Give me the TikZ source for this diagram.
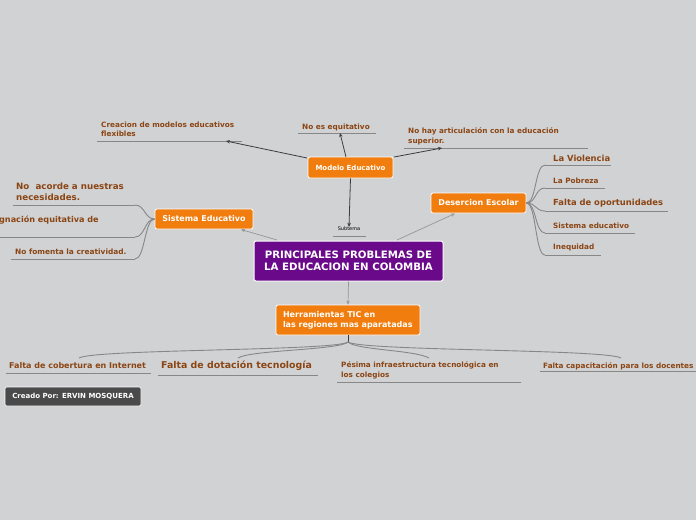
\documentclass[tikz,border=0pt]{standalone}
\usepackage{fontspec}
\setmainfont{DejaVu Sans}
\usetikzlibrary{arrows.meta,calc}
\definecolor{bg}{RGB}{209,210,212}
\definecolor{orangeN}{RGB}{240,125,14}
\definecolor{purpleN}{RGB}{106,10,138}
\definecolor{brownT}{RGB}{139,69,19}
\definecolor{darkN}{RGB}{74,74,74}
\definecolor{lineD}{RGB}{60,60,60}
\definecolor{lineL}{RGB}{150,150,150}
\definecolor{ulin}{RGB}{135,135,135}
\tikzset{
  topic/.style={rounded corners=2pt, fill=orangeN, draw=white, line width=0.8pt, text=white,
    font=\bfseries\fontsize{8}{9.5}\selectfont, inner sep=0pt},
  central/.style={rounded corners=2pt, fill=purpleN, draw=white, line width=1pt, text=white,
    font=\bfseries\fontsize{10.2}{12}\selectfont, align=center, inner sep=0pt},
  sub/.style={text=brownT, font=\bfseries\fontsize{7.3}{9.5}\selectfont, align=left, inner sep=0pt, anchor=west},
  subbig/.style={text=brownT, font=\bfseries\fontsize{8.4}{11}\selectfont, align=left, inner sep=0pt, anchor=west},
  ul/.style={draw=ulin, line width=0.9pt},
  darr/.style={draw=lineD, line width=0.8pt, -{Stealth[length=4pt,width=3.5pt]}},
  larr/.style={draw=lineL, line width=0.7pt, -{Stealth[length=4pt,width=3.5pt]}},
  branch/.style={draw=ulin, line width=0.9pt},
}
\begin{document}
\begin{tikzpicture}[x=1pt,y=-1pt]
\useasboundingbox[fill=bg] (0,0) rectangle (696,520);
\clip (0,0) rectangle (696,520);

% main nodes
\node[central, minimum width=189pt, minimum height=40pt] (cen) at (348.5,261) {PRINCIPALES PROBLEMAS DE\\LA EDUCACION EN COLOMBIA};
\node[topic, minimum width=85pt, minimum height=21pt, font=\bfseries\fontsize{7}{8.5}\selectfont] (mod) at (350.5,167.5) {Modelo Educativo};
\node[topic, minimum width=98pt, minimum height=20pt] (sis) at (204,219) {Sistema Educativo};
\node[topic, minimum width=95pt, minimum height=20pt] (des) at (478.5,203) {Desercion Escolar};
\node[topic, minimum width=144pt, minimum height=30pt, align=left, text width=130pt, font=\bfseries\fontsize{8}{10}\selectfont] (her) at (348,320) {Herramientas TIC en\\las regiones mas aparatadas};

% subtema
\node[font=\fontsize{5}{6}\selectfont, inner sep=0pt] (subt) at (349,229) {Subtema};
\coordinate (subtA) at (333,236); \coordinate (subtB) at (366,236);
\draw[ul, line width=0.6pt] (subtA) -- (subtB);
\draw[darr] (mod.south) -- (subt.north);

% central connectors
\coordinate (cS) at (277,240); \coordinate (cD) at (397,240);
\coordinate (sisIn) at (241,229.5); \coordinate (desIn) at (455,213.5);
\draw[larr] (cS) -- (sisIn);
\draw[larr] (cD) -- (desIn);
\draw[larr] (cen.south) -- (her.north);

% Modelo children
\node[sub] (cre) at (101,129.5) {Creacion de modelos educativos\\flexibles};
\coordinate (creA) at (97,141); \coordinate (creB) at (242,141); \coordinate (creT) at (226,141);
\draw[ul] (creA) -- (creB);
\node[sub] (equ) at (302,127) {No es equitativo};
\coordinate (equA) at (298,133); \coordinate (equB) at (376,133); \coordinate (equT) at (340,133);
\draw[ul] (equA) -- (equB);
\node[sub] (art) at (408,136.5) {No hay articulación con la educación\\superior.};
\coordinate (artA) at (404,148); \coordinate (artB) at (588,148); \coordinate (artT) at (442,148);
\draw[ul] (artA) -- (artB);
\coordinate (modL) at (307,158); \coordinate (modT) at (346,157); \coordinate (modR) at (394,157);
\draw[darr] (modL) -- (creT);
\draw[darr] (modT) -- (equT);
\draw[darr] (modR) -- (artT);

% Desercion children
\node[subbig] (vio) at (553,158) {La Violencia};
\node[sub] (pob) at (553,181) {La Pobreza};
\node[subbig] (opo) at (553,203) {Falta de oportunidades};
\node[sub] (sed) at (553,226) {Sistema educativo};
\node[sub] (ine) at (553,247) {Inequidad};
\coordinate (d1) at (545,165); \coordinate (d1e) at (611,165);
\coordinate (d2) at (545,188); \coordinate (d2e) at (605,188);
\coordinate (d3) at (545,211); \coordinate (d3e) at (668,211);
\coordinate (d4) at (545,233); \coordinate (d4e) at (635,233);
\coordinate (d5) at (545,255); \coordinate (d5e) at (601,255);
\foreach \a/\b in {d1/d1e,d2/d2e,d3/d3e,d4/d4e,d5/d5e}{\draw[ul] (\a) -- (\b);}
\foreach \p in {d1,d2,d3,d4,d5}{
  \draw[branch] (des.east) .. controls ($(des.east)+(10,0)$) and ($(\p)+(-10,0)$) .. (\p);}

% Sistema children
\node[subbig, font=\bfseries\fontsize{8.7}{11}\selectfont] (aco) at (16,191.5) {No\ \ acorde a nuestras\\necesidades.};
\node[subbig, font=\bfseries\fontsize{8.1}{11}\selectfont] (asi) at (-1,220) {gnación equitativa de};
\node[sub, font=\bfseries\fontsize{7.4}{9}\selectfont] (fom) at (15,252) {No fomenta la creatividad.};
\coordinate (s1) at (135,205); \coordinate (s1e) at (13,205);
\coordinate (s2) at (135,237); \coordinate (s2e) at (0,237);
\coordinate (s3) at (135,259); \coordinate (s3e) at (11,259);
\foreach \a/\b in {s1/s1e,s2/s2e,s3/s3e}{\draw[ul] (\a) -- (\b);}
\foreach \p in {s1,s2,s3}{
  \draw[branch] (sis.west) .. controls ($(sis.west)+(-10,0)$) and ($(\p)+(10,0)$) .. (\p);}

% Herramientas children
\node[font=\bfseries\fontsize{8}{9}\selectfont, text=brownT, inner sep=0pt, anchor=west] (cob) at (9,366) {Falta de cobertura en Internet};
\node[font=\bfseries\fontsize{9.4}{11}\selectfont, text=brownT, inner sep=0pt, anchor=west] (dot) at (161,366) {Falta de dotación tecnología};
\node[sub, font=\bfseries\fontsize{7.3}{10}\selectfont] (pes) at (341,370) {Pésima infraestructura tecnológica en\\los colegios};
\node[sub] (cap) at (543,366) {Falta capacitación para los docentes};
\coordinate (h1) at (6,373); \coordinate (h1e) at (151,373);
\coordinate (h2) at (158,375); \coordinate (h2e) at (318,375);
\coordinate (h3) at (337,382); \coordinate (h3e) at (521,382);
\coordinate (h4) at (540,371); \coordinate (h4e) at (700,371);
\foreach \a/\b in {h1/h1e,h2/h2e,h3/h3e,h4/h4e}{\draw[ul] (\a) -- (\b);}
\coordinate (hj) at (348,342);
\draw[draw=lineD, line width=0.8pt] (her.south) -- (hj);
\coordinate (t1) at (79,358); \coordinate (t2) at (238,358);
\coordinate (t3) at (429,358); \coordinate (t4) at (621,358);
\draw[branch] (hj) .. controls (335,351) and (95,349) .. (t1);
\draw[branch] (hj) .. controls (340,350) and (250,350) .. (t2);
\draw[branch] (hj) .. controls (356,350) and (415,350) .. (t3);
\draw[branch] (hj) .. controls (362,351) and (605,349) .. (t4);

% author
\node[rounded corners=2pt, fill=darkN, draw=white, line width=0.6pt, text=white,
  font=\bfseries\fontsize{7}{8}\selectfont, minimum width=136pt, minimum height=19pt, inner sep=0pt] (aut) at (73,396.5) {Creado Por: ERVIN MOSQUERA};
\end{tikzpicture}
\end{document}
